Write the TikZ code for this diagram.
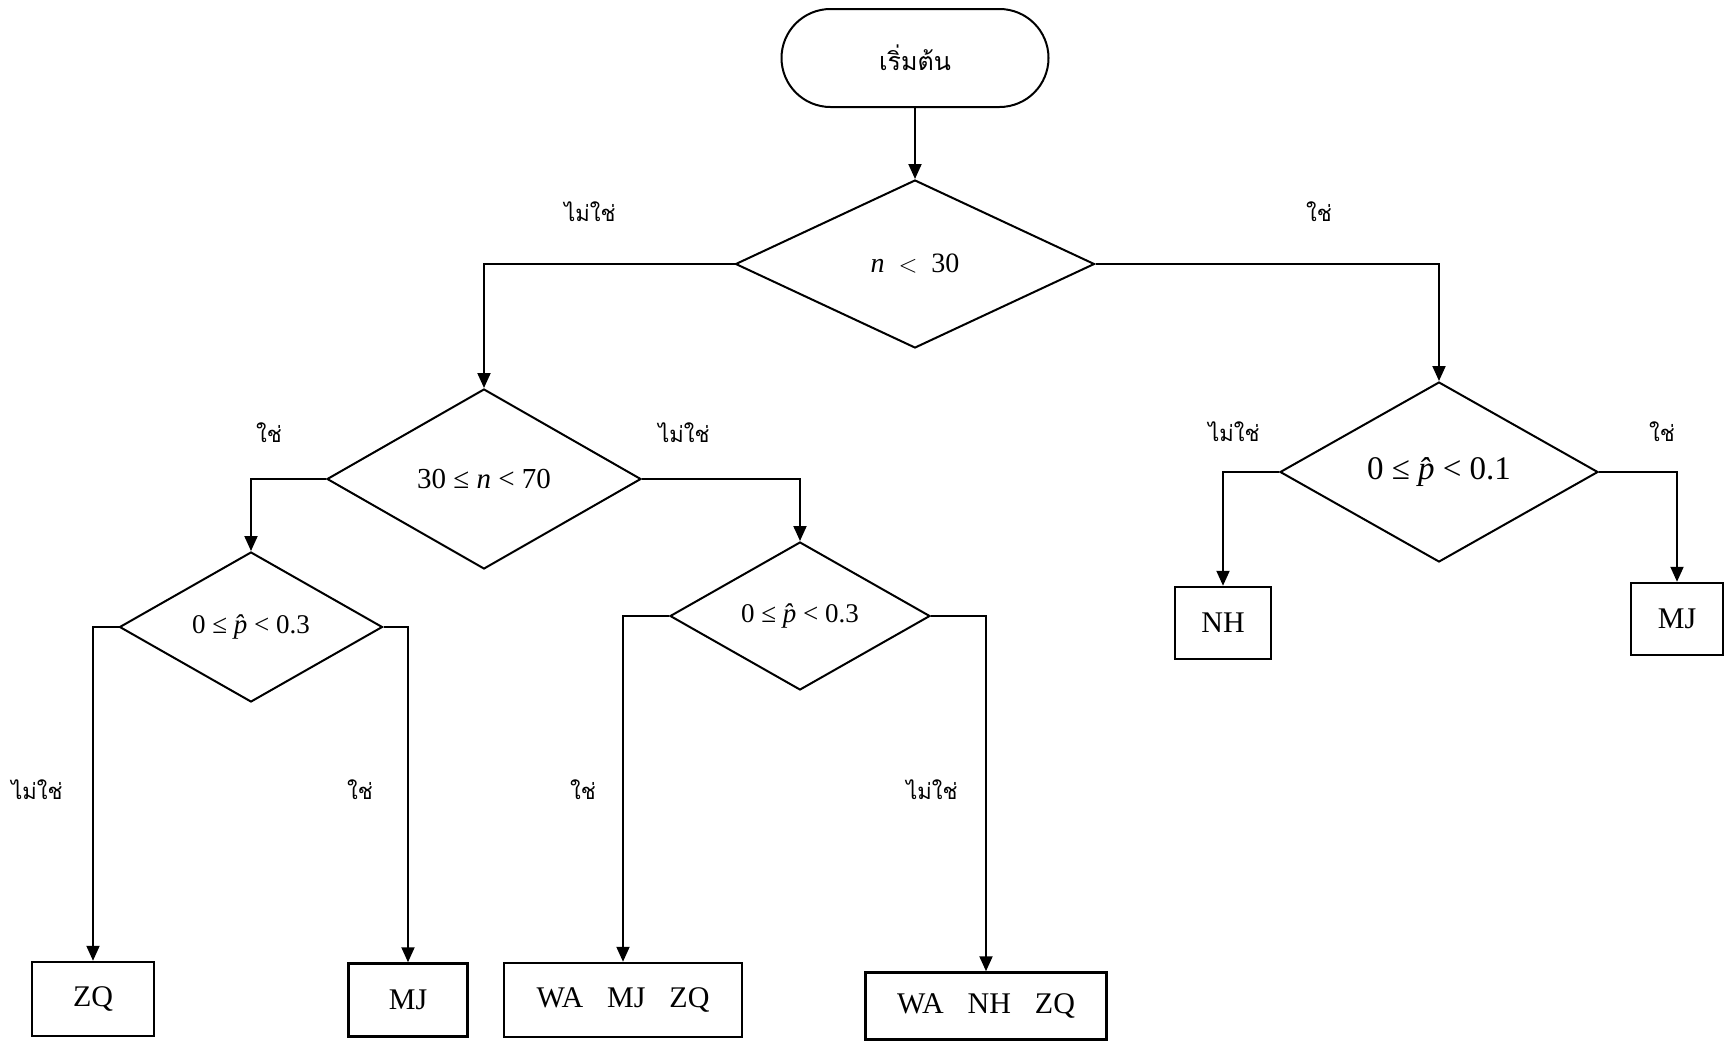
\documentclass[tikz,border=0pt]{standalone}
\usepackage{fontspec}
\setmainfont{Liberation Serif}
\newfontfamily\thaifont[Script=Thai]{Loma}
\usetikzlibrary{shapes.geometric,arrows.meta}
\tikzstyle{terminal}=[rectangle, rounded corners=49pt, draw=black, line width=2pt, minimum width=267pt, minimum height=98pt, anchor=center]
\tikzstyle{decision}=[diamond, draw=black, line width=2pt, inner sep=0pt, anchor=center]
\tikzstyle{result}=[rectangle, draw=black, line width=2.5pt, inner sep=0pt, anchor=center, font=\fontsize{30}{34}\selectfont]
\tikzstyle{annot}=[align=center, font=\thaifont\fontsize{22}{26}\selectfont]
\tikzstyle{flow}=[line width=2pt, -{Triangle[width=13pt,length=15pt]}]
\newcommand{\phat}{{\itshape p̂}}

\begin{document}
\begin{tikzpicture}[x=1pt, y=-1pt]
	\useasboundingbox (0,0) rectangle (1724,1042);

	\node[terminal, font=\thaifont\fontsize{25}{28}\selectfont](start) at (915,58){เริ่มต้น};

	\node[decision, minimum width=359pt, minimum height=168pt, font=\fontsize{28}{30}\selectfont](d1) at (915,264){\textit{n} $\;<\;$ 30};
	\node[decision, minimum width=314pt, minimum height=180pt, font=\fontsize{29}{30}\selectfont](d2) at (484,479){30 ≤ \textit{n} < 70};
	\node[decision, minimum width=318pt, minimum height=180pt, font=\fontsize{33}{34}\selectfont](d3) at (1439,472){0 ≤ \phat{} < 0.1};
	\node[decision, minimum width=263pt, minimum height=150pt, font=\fontsize{27}{28}\selectfont](d4) at (251,627){0 ≤ \phat{} < 0.3};
	\node[decision, minimum width=260pt, minimum height=148pt, font=\fontsize{27}{28}\selectfont](d5) at (800,616){0 ≤ \phat{} < 0.3};

	\node[result, minimum width=122pt, minimum height=74pt](zq) at (93,999){ZQ};
	\node[result, minimum width=119pt, minimum height=73pt](mj1) at (408,1000){MJ};
	\node[result, minimum width=238pt, minimum height=74pt](wmz) at (623,1000){WA\hspace{0.8em}MJ\hspace{0.8em}ZQ};
	\node[result, minimum width=241pt, minimum height=67pt](wnz) at (986,1006){WA\hspace{0.8em}NH\hspace{0.8em}ZQ};
	\node[result, minimum width=96pt, minimum height=72pt](nh) at (1223,623){NH};
	\node[result, minimum width=92pt, minimum height=72pt](mj2) at (1677,619){MJ};

	\draw[flow] (start) -- (d1);
	\draw[flow] (d1.west) -| (d2.north);
	\draw[flow] (d1.east) -| (d3.north);
	\draw[flow] (d2.west) -| (d4.north);
	\draw[flow] (d2.east) -| (d5.north);
	\draw[flow] (d3.west) -| (nh.north);
	\draw[flow] (d3.east) -| (mj2.north);
	\draw[flow] (d4.west) -| (zq.north);
	\draw[flow] (d4.east) -| (mj1.north);
	\draw[flow] (d5.west) -| (wmz.north);
	\draw[flow] (d5.east) -| (wnz.north);

	\node[annot](no1) at (590,212){ไม่ใช่};
	\node[annot](yes1) at (1319,212){ใช่};
	\node[annot](yes2) at (269,433){ใช่};
	\node[annot](no2) at (684,433){ไม่ใช่};
	\node[annot](no3) at (1234,432){ไม่ใช่};
	\node[annot](yes3) at (1662,432){ใช่};
	\node[annot](no4) at (37,790){ไม่ใช่};
	\node[annot](yes4) at (360,790){ใช่};
	\node[annot](yes5) at (583,790){ใช่};
	\node[annot](no5) at (932,790){ไม่ใช่};
\end{tikzpicture}
\end{document}
